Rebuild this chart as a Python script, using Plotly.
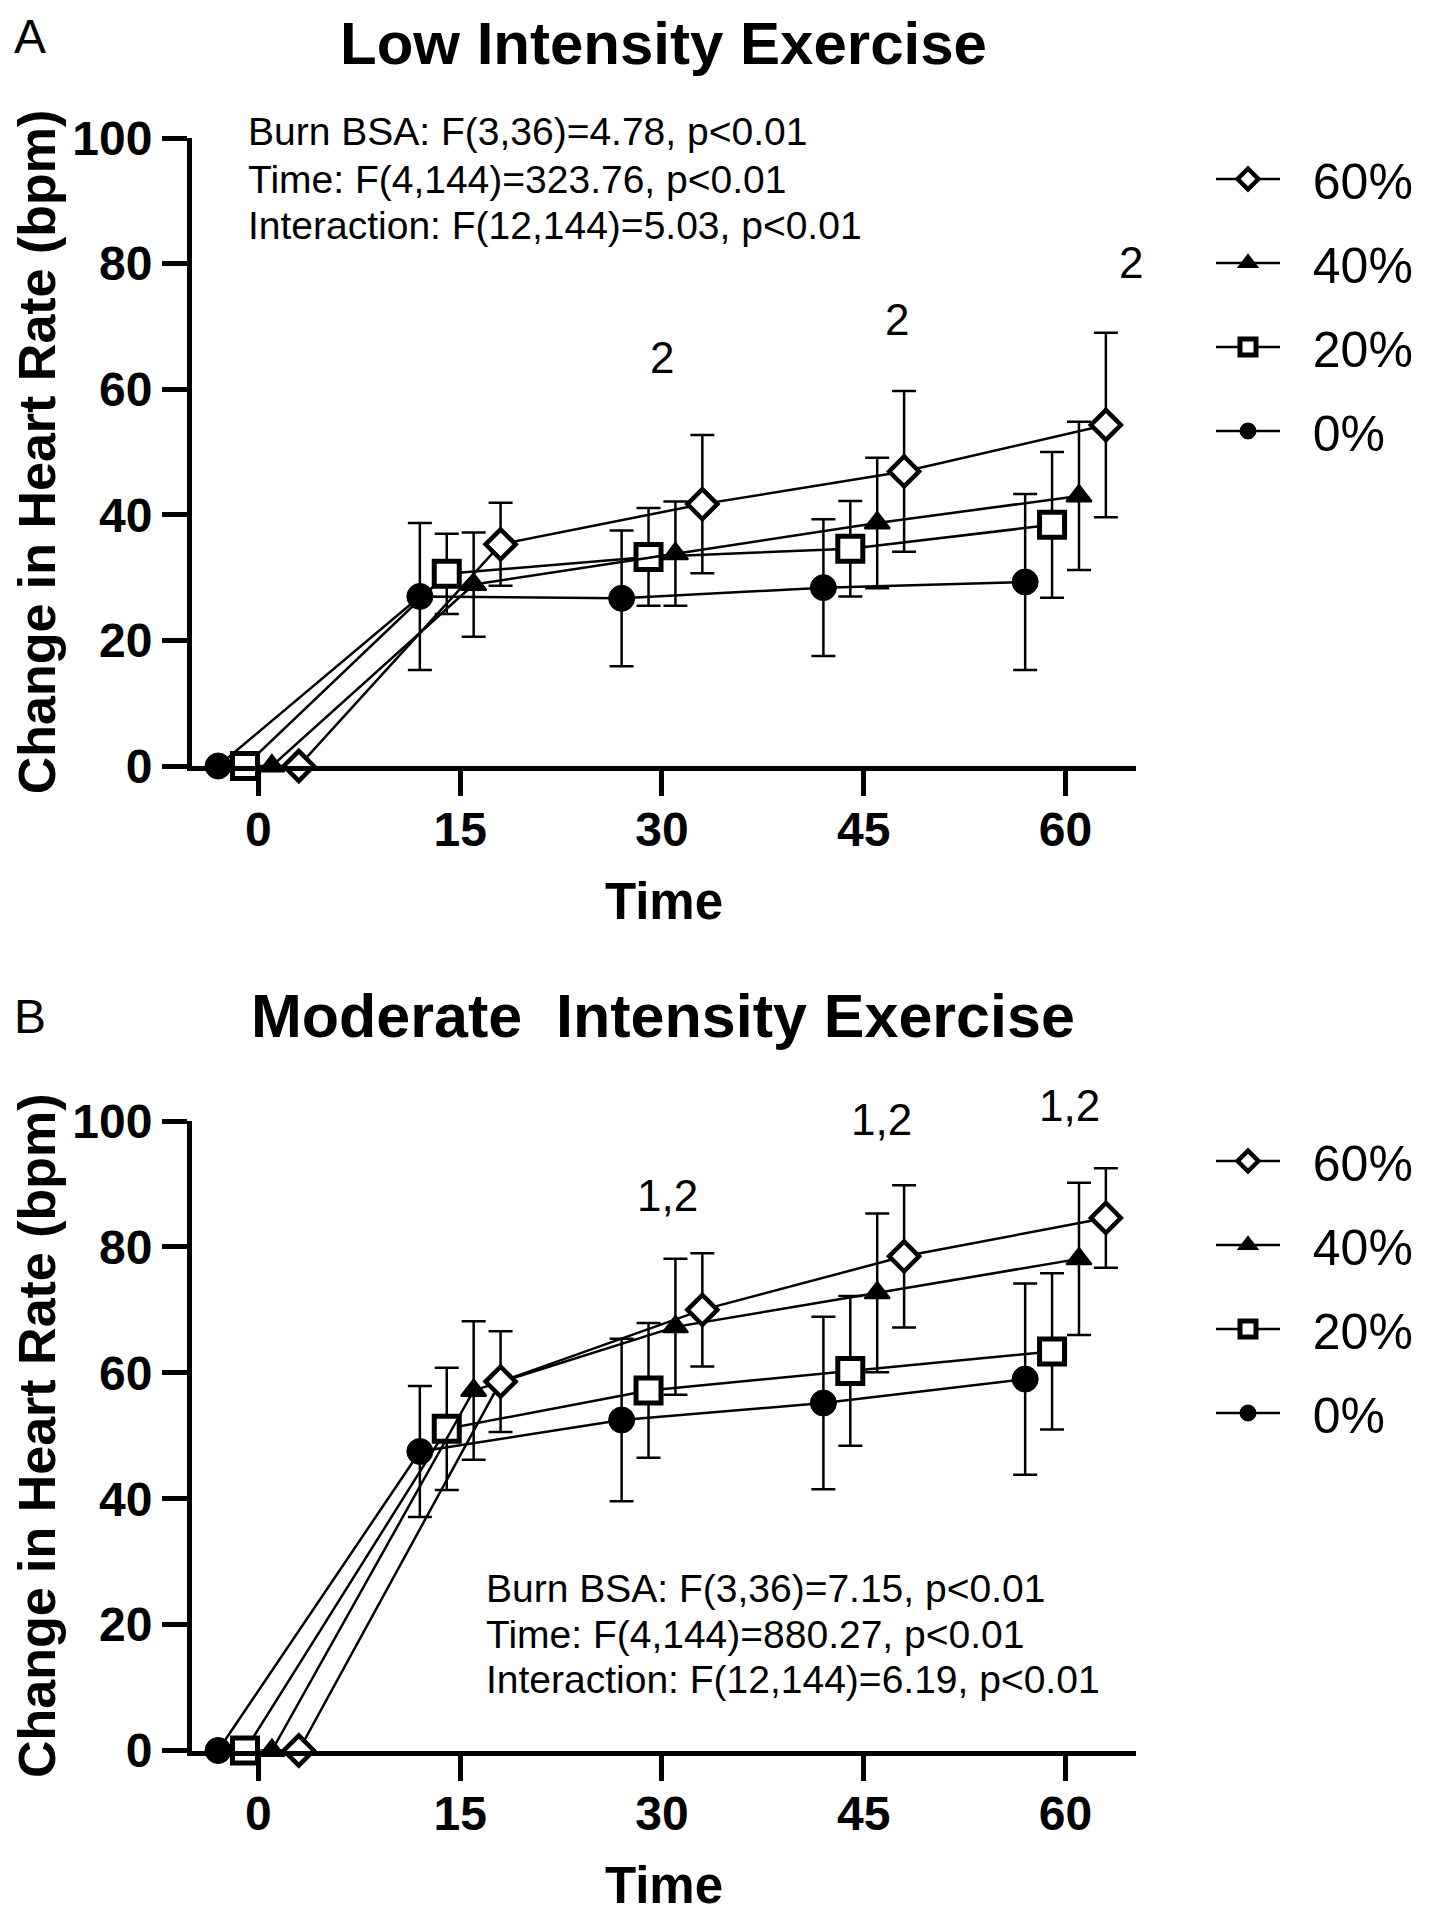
import plotly.graph_objects as go

# ---------------- data ----------------
times = [0, 15, 30, 45, 60]
groups = ["0%", "20%", "40%", "60%"]

# Low intensity exercise (panel A): mean change and SD
low_0_mean = [0, 27.0, 26.7, 28.4, 29.3]
low_0_sd = [0, 11.7, 10.8, 10.9, 14.0]
low_20_mean = [0, 30.6, 33.3, 34.6, 38.4]
low_20_sd = [0, 6.4, 7.8, 7.6, 11.6]
low_40_mean = [0, 28.9, 33.8, 38.7, 43.0]
low_40_sd = [0, 8.3, 8.3, 10.4, 11.8]
low_60_mean = [0, 35.3, 41.7, 46.9, 54.3]
low_60_sd = [0, 6.6, 11.0, 12.8, 14.7]

# Moderate intensity exercise (panel B)
mod_0_mean = [0, 47.5, 52.5, 55.2, 59.0]
mod_0_sd = [0, 10.4, 12.9, 13.7, 15.2]
mod_20_mean = [0, 51.1, 57.2, 60.3, 63.4]
mod_20_sd = [0, 9.7, 10.7, 11.9, 12.4]
mod_40_mean = [0, 57.2, 67.3, 72.7, 78.1]
mod_40_sd = [0, 11.0, 10.8, 12.6, 12.1]
mod_60_mean = [0, 58.6, 70.0, 78.5, 84.6]
mod_60_sd = [0, 8.0, 9.0, 11.3, 7.9]

x_tick_labels = ["0", "15", "30", "45", "60"]
y_tick_values = [0, 20, 40, 60, 80, 100]

low_stats = ["Burn BSA: F(3,36)=4.78, p<0.01",
             "Time: F(4,144)=323.76, p<0.01",
             "Interaction: F(12,144)=5.03, p<0.01"]
mod_stats = ["Burn BSA: F(3,36)=7.15, p<0.01",
             "Time: F(4,144)=880.27, p<0.01",
             "Interaction: F(12,144)=6.19, p<0.01"]

low_sig_labels = ["2", "2", "2"]
mod_sig_labels = ["1,2", "1,2", "1,2"]

# ---------------- styles ----------------
FONT = "Liberation Sans, Arial, Helvetica, sans-serif"
W, H = 1431, 1920
PAGE_OFFSET = 8  # default body margin of the html page

panel_data = {
    "A": {g: (m, s) for g, m, s in zip(groups,
          [low_0_mean, low_20_mean, low_40_mean, low_60_mean],
          [low_0_sd, low_20_sd, low_40_sd, low_60_sd])},
    "B": {g: (m, s) for g, m, s in zip(groups,
          [mod_0_mean, mod_20_mean, mod_40_mean, mod_60_mean],
          [mod_0_sd, mod_20_sd, mod_40_sd, mod_60_sd])},
}

style = {
    "0%": dict(dodge=-3, symbol="circle", fill="black", size=26, lw=1, rank=4),
    "20%": dict(dodge=-1, symbol="square", fill="white", size=25, lw=5, rank=3),
    "40%": dict(dodge=1, symbol="triangle-up", fill="black", size=22, lw=2, rank=2),
    "60%": dict(dodge=3, symbol="diamond", fill="white", size=23, lw=4.5, rank=1),
}

axes_ids = {"A": ("x", "y", "legend"), "B": ("x2", "y2", "legend2")}

fig = go.Figure()
for panel in ["A", "B"]:
    xa, ya, lg = axes_ids[panel]
    for g in groups:
        m, s = panel_data[panel][g]
        st = style[g]
        fig.add_trace(go.Scatter(
            x=[t + st["dodge"] for t in times], y=m,
            mode="lines+markers", name="\u00a0\u00a0" + g,
            xaxis=xa, yaxis=ya, legend=lg, legendgroup=panel + g,
            legendrank=st["rank"],
            cliponaxis=False,
            line=dict(color="black", width=2.5),
            marker=dict(symbol=st["symbol"], size=st["size"], color=st["fill"],
                        line=dict(color="black", width=st["lw"])),
            error_y=dict(type="data", array=s, visible=True, color="black",
                         thickness=2.5, width=12),
        ))

def px_x(p):
    return (p - PAGE_OFFSET) / W

def px_y(p):
    return 1 - (p - PAGE_OFFSET) / H

x_dom = [px_x(192), px_x(1136)]
x_range = [-4.94, 65.24]

axis_common = dict(
    showline=True, linewidth=5, linecolor="black",
    ticks="outside", ticklen=25, tickwidth=5, tickcolor="black",
    showgrid=False, zeroline=False, automargin=False,
    tickfont=dict(family=FONT, size=48, color="black", weight="bold"),
)

def xaxis_cfg(anchor):
    return dict(axis_common, domain=x_dom, range=x_range, anchor=anchor,
                tickmode="array", tickvals=times, ticktext=x_tick_labels,
                ticklabelstandoff=-8,
                title=dict(text="Time", standoff=30,
                           font=dict(family=FONT, size=51, color="black", weight="bold")))

def yaxis_cfg(dom, anchor):
    return dict(axis_common, domain=dom, range=[0, 100], anchor=anchor,
                tickmode="array", tickvals=y_tick_values,
                title=dict(text="Change in Heart Rate (bpm)", standoff=22,
                           font=dict(family=FONT, size=52, color="black", weight="bold")))

legend_common = dict(
    xanchor="left", yanchor="top", traceorder="grouped",
    tracegroupgap=16, itemwidth=64, bgcolor="rgba(0,0,0,0)",
    font=dict(family=FONT, size=50, color="black"),
)

annotations = []
# panel A letter and title (anchored to the top edge so they stay inside the figure)
annotations.append(dict(text="A", x=px_x(12), y=1, xref="paper", yref="paper",
                        xanchor="left", yanchor="top", showarrow=False,
                        font=dict(family=FONT, size=48, color="black")))
annotations.append(dict(text="Low Intensity Exercise", x=px_x(663), y=1,
                        xref="paper", yref="paper",
                        xanchor="center", yanchor="top", showarrow=False,
                        font=dict(family=FONT, size=60, color="black", weight="bold")))
# panel B letter and title
annotations.append(dict(text="B", x=px_x(12), y=px_y(1016), xref="paper", yref="paper",
                        xanchor="left", yanchor="middle", showarrow=False,
                        font=dict(family=FONT, size=48, color="black")))
annotations.append(dict(text="Moderate\u00a0 Intensity Exercise", x=px_x(663), y=px_y(1016),
                        xref="paper", yref="paper",
                        xanchor="center", yanchor="middle", showarrow=False,
                        font=dict(family=FONT, size=61, color="black", weight="bold")))

# statistics text
for lines, x0, ys in [(low_stats, 246, [132, 179, 226]), (mod_stats, 484, [1588, 1634, 1679])]:
    for line, yc in zip(lines, ys):
        annotations.append(dict(text=line, x=px_x(x0), y=px_y(yc), xref="paper", yref="paper",
                                xanchor="left", yanchor="middle", showarrow=False,
                                font=dict(family=FONT, size=39, color="black")))

# significance markers (above time points; y given in % of the axis span)
low_sig_pos = [(30.0, 65.1), (47.5, 71.1), (64.9, 80.1)]
mod_sig_pos = [(30.4, 88.1), (46.3, 100.2), (60.3, 102.5)]
for labels, pos, xr, yr in [(low_sig_labels, low_sig_pos, "x", "y domain"),
                            (mod_sig_labels, mod_sig_pos, "x2", "y2 domain")]:
    for lab, (xv, yv) in zip(labels, pos):
        annotations.append(dict(text=lab, x=xv, y=yv / 100.0, xref=xr, yref=yr,
                                xanchor="center", yanchor="middle", showarrow=False,
                                font=dict(family=FONT, size=44, color="black")))

fig.update_layout(
    template="none",
    width=W, height=H,
    margin=dict(l=0, r=0, t=0, b=0, autoexpand=False),
    paper_bgcolor="white", plot_bgcolor="white",
    font=dict(family=FONT, color="black"),
    showlegend=True,
    xaxis=xaxis_cfg("y"),
    yaxis=yaxis_cfg([px_y(766), px_y(138)], "x"),
    xaxis2=xaxis_cfg("y2"),
    yaxis2=yaxis_cfg([px_y(1750.5), px_y(1121)], "x2"),
    legend=dict(legend_common, x=px_x(1211), y=px_y(140)),
    legend2=dict(legend_common, x=px_x(1211), y=px_y(1122)),
    annotations=annotations,
)

fig.write_html("out.html")
